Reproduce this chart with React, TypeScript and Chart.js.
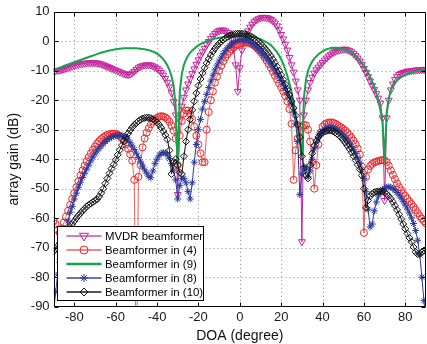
import React, { useEffect, useRef } from 'react';
import { Chart, registerables } from 'chart.js';

Chart.register(...registerables);

const DOA: number[] = Array.from({ length: 181 }, (_, i) => i - 90);
const X_TICKS = [-80, -60, -40, -20, 0, 20, 40, 60, 80];
const Y_TICKS = [-90, -80, -70, -60, -50, -40, -30, -20, -10, 0, 10];

const SERIES_LABELS = [
  'MVDR beamformer',
  'Beamformer in (4)',
  'Beamformer in (9)',
  'Beamformer in (8)',
  'Beamformer in (10)',
];

const MVDR = [
  -10, -10, -9.9, -9.8, -9.6, -9.4, -9.2, -9, -8.7, -8.5,
  -8.3, -8.1, -7.9, -7.7, -7.6, -7.5, -7.4, -7.3, -7.3, -7.3,
  -7.3, -7.4, -7.5, -7.7, -8, -8.3, -8.6, -8.9, -9.2, -9.5,
  -9.8, -10.1, -10.4, -10.7, -11, -11.2, -11.3, -11.2, -10.8, -10.2,
  -9.6, -9, -8.6, -8.3, -8.1, -8, -8, -8.1, -8.4, -8.8,
  -9.2, -9.8, -10.6, -11.5, -12.6, -13.9, -15.5, -17.5, -20.5, -25,
  -52, -27, -22, -19, -16.5, -14.5, -12.7, -11, -9.4, -7.8,
  -6.3, -4.9, -3.6, -2.4, -1.2, -0.1, 0.9, 1.8, 2.6, 3.2,
  3.6, 3.8, 3.8, 3.5, 3, 2.2, 0.8, -2.8, -8, -17,
  -9, -3, 0, 2, 3.5, 4.8, 5.8, 6.6, 7.2, 7.6,
  7.9, 8.1, 8.1, 8, 7.8, 7.4, 6.9, 6.2, 5.2, 3.9,
  2.3, 0.8, -1, -3, -5.5, -8, -10.5, -13.5, -16.5, -20,
  -68, -25, -20, -16.5, -14, -12.2, -10.8, -9.7, -8.8, -8,
  -7.2, -6.4, -5.7, -5, -4.4, -3.9, -3.5, -3.2, -3, -2.8,
  -2.7, -2.7, -2.9, -3.2, -3.6, -4.2, -4.9, -5.7, -6.7, -7.9,
  -9.2, -10.6, -12, -13.5, -15, -16.4, -17.8, -19.3, -21, -26,
  -54, -26, -20, -16.5, -14.5, -13, -12, -11.3, -10.9, -10.6,
  -10.4, -10.2, -10.1, -10, -9.9, -9.8, -9.7, -9.7, -9.6, -9.6,
  -9.5,
];

const BF4 = [
  -61, -62, -64, -65, -63.5, -61.5, -59.5, -57.5, -55.5, -53.5,
  -51.5, -49.5, -47.5, -45.5, -43.8, -42.2, -40.7, -39.3, -38, -36.8,
  -35.7, -34.7, -33.9, -33.2, -32.6, -32.1, -31.8, -31.5, -31.4, -31.3,
  -31.4, -31.7, -32.2, -32.9, -33.8, -35, -36.5, -38.3, -40.5, -47,
  -120, -46, -42, -36, -33, -31, -29.5, -28.2, -27.2, -26.5,
  -26, -25.6, -25.4, -25.5, -25.8, -26.4, -27.3, -28.6, -30.3, -33,
  -42, -32, -27, -24.5, -23.5, -23.5, -24.5, -26.5, -29, -32,
  -35, -38, -41, -41, -30, -24, -20, -17, -14, -12,
  -10, -8.3, -6.8, -5.5, -4.4, -3.5, -2.7, -2, -1.5, -1.1,
  -0.8, -0.6, -0.5, -0.45, -0.5, -0.7, -1, -1.5, -2.1, -2.8,
  -3.6, -4.5, -5.5, -6.6, -7.8, -9, -10.3, -11.7, -13, -14.3,
  -15.6, -17, -18.6, -20.4, -23, -28, -47, -37, -33, -30.5,
  -29, -28.5, -28.5, -30, -34, -41, -50, -42, -35, -31,
  -29, -28.2, -27.8, -27.6, -27.5, -27.6, -27.9, -28.3, -28.8, -29.2,
  -29.7, -30.3, -31, -31.8, -32.7, -33.7, -34.9, -36.4, -38.4, -42.5,
  -65, -46, -43.5, -42.3, -41.6, -41.1, -40.8, -40.6, -40.4, -40.3,
  -40.4, -41, -42.2, -43.8, -45.3, -46.8, -48.2, -49.5, -50.6, -51.6,
  -52.5, -53.4, -54.3, -55.2, -56.2, -57.2, -58.3, -59.3, -60.2, -61,
  -61.8,
];

const BF9 = [
  -9.8, -9.55, -9.3, -9, -8.7, -8.4, -8.1, -7.85, -7.6, -7.35,
  -7.1, -6.85, -6.6, -6.35, -6.1, -5.85, -5.6, -5.35, -5.1, -4.85,
  -4.6, -4.35, -4.1, -3.9, -3.7, -3.5, -3.3, -3.15, -3, -2.85,
  -2.7, -2.6, -2.5, -2.45, -2.4, -2.37, -2.35, -2.35, -2.35, -2.37,
  -2.4, -2.45, -2.5, -2.6, -2.7, -2.85, -3, -3.2, -3.5, -3.8,
  -4.2, -4.7, -5.3, -6.1, -7, -8.2, -9.7, -11.8, -15, -22,
  -43, -17, -11, -8, -6.2, -4.9, -3.9, -3.1, -2.5, -1.9,
  -1.4, -1, -0.6, -0.3, 0, 0.2, 0.5, 0.7, 0.9, 1,
  1.2, 1.3, 1.4, 1.5, 1.6, 1.6, 1.7, 1.7, 1.7, 1.7,
  1.7, 1.7, 1.7, 1.6, 1.6, 1.5, 1.4, 1.3, 1.2, 1,
  0.7, 0.4, 0, -0.4, -0.8, -1.3, -2, -2.8, -3.7, -4.8,
  -6.1, -7.7, -9.6, -11.8, -14.3, -17.2, -20.8, -25, -29.5, -34,
  -39, -19, -13, -10, -8.2, -6.9, -5.9, -5.1, -4.4, -3.9,
  -3.4, -3, -2.7, -2.5, -2.3, -2.2, -2.2, -2.2, -2.3, -2.4,
  -2.6, -2.8, -3.1, -3.4, -3.8, -4.3, -4.9, -5.6, -6.4, -7.3,
  -8.3, -9.4, -10.6, -12, -13.6, -15.5, -17.7, -20.4, -23.5, -27.5,
  -41, -24, -19.5, -16.5, -15, -14, -13.3, -12.7, -12.2, -11.8,
  -11.4, -11.1, -10.8, -10.6, -10.4, -10.2, -10, -9.9, -9.8, -9.7,
  -9.6,
];

const BF8 = [
  -92, -85, -79, -75, -71.5, -68.5, -65, -61, -58, -56,
  -53.5, -51.5, -49.5, -47.8, -46.2, -44.8, -43.4, -42, -40.6, -39.3,
  -38.2, -37.2, -36.3, -35.5, -34.7, -34, -33.4, -32.9, -32.5, -32.2,
  -32, -31.9, -31.9, -32, -32.3, -32.8, -33.5, -34.4, -35.5, -36.7,
  -38, -39.4, -40.9, -42.3, -43.6, -44.7, -45.8, -46.3, -44, -41.5,
  -40, -38.8, -38, -37.7, -37.9, -38.6, -39.8, -41.5, -43.7, -47,
  -53.5, -49, -46.5, -46.5, -48, -51, -53.5, -48, -41, -35,
  -30, -26.5, -23, -20.5, -18, -15.7, -13.5, -11.5, -9.7, -8.1,
  -6.7, -5.4, -4.2, -3.2, -2.3, -1.5, -0.9, -0.4, 0, 0.3,
  0.4, 0.5, 0.5, 0.4, 0.1, -0.3, -0.8, -1.3, -1.9, -2.6,
  -3.3, -4.1, -4.9, -5.7, -6.6, -7.6, -8.6, -9.7, -10.9, -12,
  -13.3, -14.6, -16, -17.5, -19, -21, -24, -28, -34, -52,
  -45, -42.5, -43, -46, -44, -40, -36.5, -34.2, -32.5, -31.3,
  -30.5, -29.9, -29.5, -29.3, -29.2, -29.3, -29.6, -30, -30.5, -31.1,
  -31.8, -32.6, -33.5, -34.5, -35.6, -36.8, -38.1, -39.6, -41.3, -43.5,
  -46.5, -51, -57, -63, -62, -57.5, -54.5, -52.5, -51.2, -50.3,
  -49.8, -49.5, -49.4, -49.5, -49.9, -50.5, -51.3, -52.2, -53.2, -54.4,
  -55.6, -56.9, -58.3, -59.9, -61.8, -64.2, -67.5, -72.5, -80, -88,
  -95,
];

const BF10 = [
  -71.3, -70.5, -69.5, -68.5, -67.3, -66.2, -65.2, -64.1, -63, -62,
  -61, -60, -59.1, -58.3, -57.5, -56.8, -56, -55.5, -55, -54.5,
  -54.1, -53.6, -52.7, -51.5, -50, -48.2, -46.5, -44.8, -43.2, -41.8,
  -40.2, -38.5, -36.9, -35.3, -33.9, -32.5, -31.3, -30.2, -29.2, -28.4,
  -27.7, -27.1, -26.6, -26.2, -26, -25.9, -25.9, -26.1, -26.4, -26.9,
  -27.5, -28.3, -29.3, -30.5, -31.8, -33.3, -37, -45, -41, -40,
  -42, -44.5, -45, -39, -34, -30, -26.5, -23.3, -20.4, -17.6,
  -15, -12.8, -10.8, -9, -7.4, -6, -4.7, -3.5, -2.5, -1.6,
  -0.8, -0.1, 0.5, 1, 1.5, 1.9, 2.2, 2.4, 2.5, 2.6,
  2.6, 2.6, 2.5, 2.3, 2.1, 1.8, 1.4, 1, 0.5, -0.1,
  -0.8, -1.5, -2.3, -3.1, -4, -5, -6.1, -7.3, -8.6, -10,
  -11.4, -13, -14.6, -16.3, -18.2, -20.3, -22.6, -25.2, -28.3, -32.5,
  -39, -43, -45.5, -46.5, -42, -38, -35.5, -33.8, -32.5, -31.6,
  -31, -30.6, -30.4, -30.3, -30.3, -30.5, -30.9, -31.4, -32, -32.7,
  -33.5, -34.4, -35.4, -36.5, -37.7, -39, -40.4, -41.9, -43.5, -45.5,
  -50, -56.5, -54, -52.5, -51.7, -51.2, -51, -50.9, -50.9, -51,
  -51.3, -51.8, -52.5, -53.4, -54.5, -55.8, -57.2, -58.7, -60.3, -62,
  -63.6, -65.2, -66.7, -68, -69.8, -71.5, -72.2, -72, -71.5, -71,
  -70.6,
];

const FONT = '"Liberation Sans", Arial, Helvetica, sans-serif';

const COLORS = {
  mvdr: '#c4239c',
  bf4: '#e8262a',
  bf9: '#17a24b',
  bf8: '#2b3a9e',
  bf10: '#111111',
};

type MarkerKind = 'tri' | 'circle' | 'none' | 'star' | 'diamond';

function drawMarker(ctx: CanvasRenderingContext2D, kind: MarkerKind, x: number, y: number, r: number, color: string) {
  ctx.save();
  ctx.strokeStyle = color;
  ctx.lineWidth = 1;
  ctx.beginPath();
  if (kind === 'tri') {
    ctx.moveTo(x - r, y - r * 0.6);
    ctx.lineTo(x + r, y - r * 0.6);
    ctx.lineTo(x, y + r * 1.1);
    ctx.closePath();
  } else if (kind === 'circle') {
    ctx.arc(x, y, r, 0, Math.PI * 2);
  } else if (kind === 'star') {
    ctx.moveTo(x - r, y); ctx.lineTo(x + r, y);
    ctx.moveTo(x, y - r); ctx.lineTo(x, y + r);
    const d = r * 0.707;
    ctx.moveTo(x - d, y - d); ctx.lineTo(x + d, y + d);
    ctx.moveTo(x - d, y + d); ctx.lineTo(x + d, y - d);
  } else if (kind === 'diamond') {
    ctx.moveTo(x, y - r); ctx.lineTo(x + r, y); ctx.lineTo(x, y + r); ctx.lineTo(x - r, y);
    ctx.closePath();
  }
  if (kind !== 'none') ctx.stroke();
  ctx.restore();
}

const LEGEND_STYLE: { kind: MarkerKind; line: string; lineWidth: number; marker: string }[] = [
  { kind: 'tri', line: '#d879c6', lineWidth: 2, marker: COLORS.mvdr },
  { kind: 'circle', line: '#f08a84', lineWidth: 2, marker: COLORS.bf4 },
  { kind: 'none', line: COLORS.bf9, lineWidth: 2.5, marker: COLORS.bf9 },
  { kind: 'star', line: '#6a72b8', lineWidth: 2, marker: COLORS.bf8 },
  { kind: 'diamond', line: '#555555', lineWidth: 2, marker: COLORS.bf10 },
];

const framePlugin = {
  id: 'matlabFrame',
  beforeDatasetsDraw(chart: any) {
    const { ctx, chartArea: a, scales } = chart;
    const x = scales.x, y = scales.y;
    ctx.save();
    ctx.strokeStyle = '#8a8a8a';
    ctx.lineWidth = 1;
    ctx.setLineDash([1, 3]);
    X_TICKS.forEach((v) => {
      const px = Math.round(x.getPixelForValue(v)) + 0.5;
      ctx.beginPath(); ctx.moveTo(px, a.top); ctx.lineTo(px, a.bottom); ctx.stroke();
    });
    Y_TICKS.forEach((v) => {
      if (v === -90 || v === 10) return;
      const py = Math.round(y.getPixelForValue(v)) + 0.5;
      ctx.beginPath(); ctx.moveTo(a.left, py); ctx.lineTo(a.right, py); ctx.stroke();
    });
    ctx.restore();
  },
  afterDatasetsDraw(chart: any) {
    const { ctx, chartArea: a, scales } = chart;
    const x = scales.x, y = scales.y;
    ctx.save();
    ctx.strokeStyle = '#000';
    ctx.lineWidth = 1;
    ctx.setLineDash([]);
    const L = Math.round(a.left) + 0.5, R = Math.round(a.right) - 0.5;
    const T = Math.round(a.top) + 0.5, B = Math.round(a.bottom) - 0.5;
    ctx.beginPath();
    ctx.moveTo(L, T); ctx.lineTo(R, T); ctx.lineTo(R, B); ctx.lineTo(L, B); ctx.closePath();
    ctx.stroke();
    const tl = 4;
    X_TICKS.forEach((v) => {
      const px = Math.round(x.getPixelForValue(v)) + 0.5;
      ctx.beginPath();
      ctx.moveTo(px, B); ctx.lineTo(px, B - tl);
      ctx.moveTo(px, T); ctx.lineTo(px, T + tl);
      ctx.stroke();
    });
    Y_TICKS.forEach((v) => {
      const py = Math.round(y.getPixelForValue(v)) + 0.5;
      ctx.beginPath();
      ctx.moveTo(L, py); ctx.lineTo(L + tl, py);
      ctx.moveTo(R, py); ctx.lineTo(R - tl, py);
      ctx.stroke();
    });

    // legend box
    const lx = Math.round(a.left) + 3.5;
    const lw = 146;
    const lh = 74;
    const ly = Math.round(a.bottom) - 6.5 - lh;
    ctx.fillStyle = '#ffffff';
    ctx.fillRect(lx, ly, lw, lh);
    ctx.strokeStyle = '#000';
    ctx.lineWidth = 1;
    ctx.strokeRect(lx, ly, lw, lh);
    ctx.font = `11.4px ${FONT}`;
    ctx.textBaseline = 'middle';
    ctx.textAlign = 'left';
    SERIES_LABELS.forEach((label, i) => {
      const st = LEGEND_STYLE[i];
      const cy = ly + 9.5 + i * 14;
      ctx.strokeStyle = st.line;
      ctx.lineWidth = st.lineWidth;
      ctx.beginPath();
      ctx.moveTo(lx + 9, cy); ctx.lineTo(lx + 44, cy);
      ctx.stroke();
      drawMarker(ctx, st.kind, lx + 26.5, cy, st.kind === 'tri' ? 4.5 : 4, st.marker);
      ctx.fillStyle = '#000';
      ctx.fillText(label, lx + 47.5, cy + 0.5);
    });
    ctx.restore();
  },
};

function pts(values: number[]) {
  return DOA.map((d, i) => ({ x: d, y: values[i] }));
}

export default function App() {
  const canvasRef = useRef<HTMLCanvasElement | null>(null);

  useEffect(() => {
    if (!canvasRef.current) return;
    const hollow = 'rgba(255,255,255,0)';
    const chart = new Chart(canvasRef.current, {
      type: 'line',
      data: {
        datasets: [
          {
            label: SERIES_LABELS[0], data: pts(MVDR), order: 5,
            borderColor: COLORS.mvdr, borderWidth: 1, pointStyle: 'triangle', rotation: 180,
            pointRadius: 4, pointBorderColor: COLORS.mvdr, pointBackgroundColor: hollow, pointBorderWidth: 1,
          },
          {
            label: SERIES_LABELS[1], data: pts(BF4), order: 4,
            borderColor: 'rgba(236,70,70,0.85)', borderWidth: 1, pointStyle: 'circle',
            pointRadius: 3.5, pointBorderColor: COLORS.bf4, pointBackgroundColor: hollow, pointBorderWidth: 1,
          },
          {
            label: SERIES_LABELS[2], data: pts(BF9), order: 3,
            borderColor: COLORS.bf9, borderWidth: 2, pointRadius: 0,
          },
          {
            label: SERIES_LABELS[3], data: pts(BF8), order: 2,
            borderColor: COLORS.bf8, borderWidth: 1, pointStyle: 'star',
            pointRadius: 3.5, pointBorderColor: COLORS.bf8, pointBackgroundColor: hollow, pointBorderWidth: 1,
          },
          {
            label: SERIES_LABELS[4], data: pts(BF10), order: 1,
            borderColor: COLORS.bf10, borderWidth: 1, pointStyle: 'rectRot',
            pointRadius: 3.5, pointBorderColor: COLORS.bf10, pointBackgroundColor: hollow, pointBorderWidth: 1,
          },
        ] as any,
      },
      options: {
        animation: false,
        responsive: true,
        maintainAspectRatio: false,
        devicePixelRatio: 1,
        events: [],
        layout: { padding: { left: 2, right: 0, top: 7, bottom: -1 } },
        elements: { line: { tension: 0 } },
        plugins: { legend: { display: false }, tooltip: { enabled: false } },
        scales: {
          x: {
            type: 'linear',
            min: -90,
            max: 90,
            afterBuildTicks: (scale: any) => {
              scale.ticks = X_TICKS.map((v) => ({ value: v }));
            },
            grid: { display: false, drawTicks: false, tickLength: 0 },
            border: { display: false },
            ticks: { color: '#1a1a1a', font: { family: FONT, size: 13 }, padding: 3, maxRotation: 0, autoSkip: false },
            title: { display: true, text: 'DOA (degree)', color: '#111', font: { family: FONT, size: 14 }, padding: { top: 0, bottom: 0 } },
          },
          y: {
            type: 'linear',
            min: -90,
            max: 10,
            afterBuildTicks: (scale: any) => {
              scale.ticks = Y_TICKS.map((v) => ({ value: v }));
            },
            grid: { display: false, drawTicks: false, tickLength: 0 },
            border: { display: false },
            ticks: { color: '#1a1a1a', font: { family: FONT, size: 13 }, padding: 4, autoSkip: false },
            title: { display: true, text: 'array gain (dB)', color: '#111', font: { family: FONT, size: 14 }, padding: { top: 4, bottom: 4 } },
          },
        },
      } as any,
      plugins: [framePlugin],
    });
    return () => chart.destroy();
  }, []);

  return (
    <div style={{ position: 'fixed', left: 0, top: 0, width: 427, height: 344, background: '#fff', overflow: 'hidden' }}>
      <div style={{ position: 'absolute', left: 0, top: 0, width: 431, height: 344 }}>
        <canvas ref={canvasRef} />
      </div>
    </div>
  );
}
